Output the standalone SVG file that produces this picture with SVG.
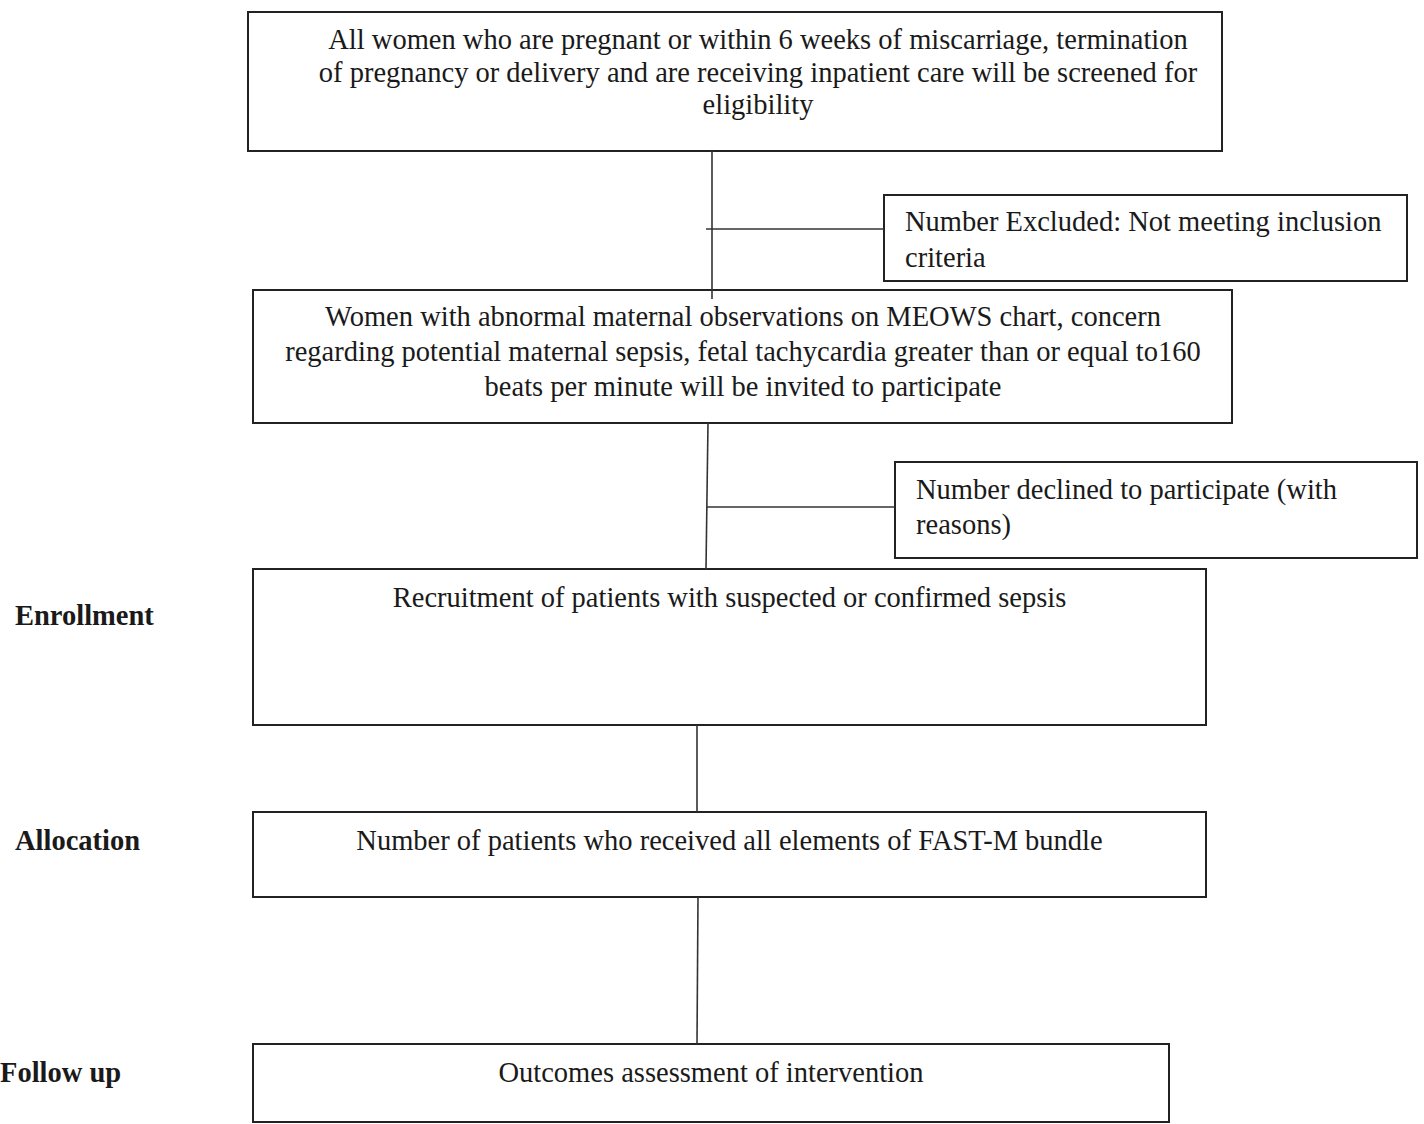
<svg xmlns="http://www.w3.org/2000/svg" width="1424" height="1124" viewBox="0 0 1424 1124">
<style>
.box{fill:#fff;stroke:#222;stroke-width:2}
.ln{stroke:#333;stroke-width:1.6;fill:none}
text{font-family:"Liberation Serif","Times New Roman",serif;font-size:28.5px;fill:#1a1a1a}
.c{text-anchor:middle}
.lab{font-weight:bold}
</style>
<rect width="1424" height="1124" fill="#fff"/>
<g id="n1">
<rect class="box" x="248" y="12" width="974" height="139"/>
<text class="c" x="758" y="49">All women who are pregnant or within 6 weeks of miscarriage, termination</text>
<text class="c" x="758" y="82">of pregnancy or delivery and are receiving inpatient care will be screened for</text>
<text class="c" x="758" y="114">eligibility</text>
</g>
<g id="n2">
<rect class="box" x="884" y="195" width="523" height="86"/>
<text x="905" y="231">Number Excluded: Not meeting inclusion</text>
<text x="905" y="267">criteria</text>
</g>
<g id="n3">
<rect class="box" x="253" y="290" width="979" height="133"/>
<text class="c" x="743" y="326">Women with abnormal maternal observations on MEOWS chart, concern</text>
<text class="c" x="743" y="361">regarding potential maternal sepsis, fetal tachycardia greater than or equal to160</text>
<text class="c" x="743" y="396">beats per minute will be invited to participate</text>
</g>
<g id="n4">
<rect class="box" x="895" y="462" width="522" height="96"/>
<text x="916" y="499">Number declined to participate (with</text>
<text x="916" y="534">reasons)</text>
</g>
<g id="n5">
<rect class="box" x="253" y="569" width="953" height="156"/>
<text class="c" x="729.5" y="607">Recruitment of patients with suspected or confirmed sepsis</text>
</g>
<g id="n6">
<rect class="box" x="253" y="812" width="953" height="85"/>
<text class="c" x="729.5" y="850">Number of patients who received all elements of FAST-M bundle</text>
</g>
<g id="n7">
<rect class="box" x="253" y="1044" width="916" height="78"/>
<text class="c" x="711" y="1082">Outcomes assessment of intervention</text>
</g>
<g id="labels">
<text class="lab" x="15" y="625">Enrollment</text>
<text class="lab" x="15" y="850">Allocation</text>
<text class="lab" x="0" y="1082">Follow up</text>
</g>
<g id="connectors">
<line class="ln" x1="712" y1="151" x2="712" y2="299"/>
<line class="ln" x1="706" y1="229" x2="884" y2="229"/>
<line class="ln" x1="708" y1="423" x2="706" y2="569"/>
<line class="ln" x1="707" y1="507" x2="895" y2="507"/>
<line class="ln" x1="697" y1="725" x2="697" y2="812"/>
<line class="ln" x1="698" y1="897" x2="697" y2="1044"/>
</g>
</svg>
